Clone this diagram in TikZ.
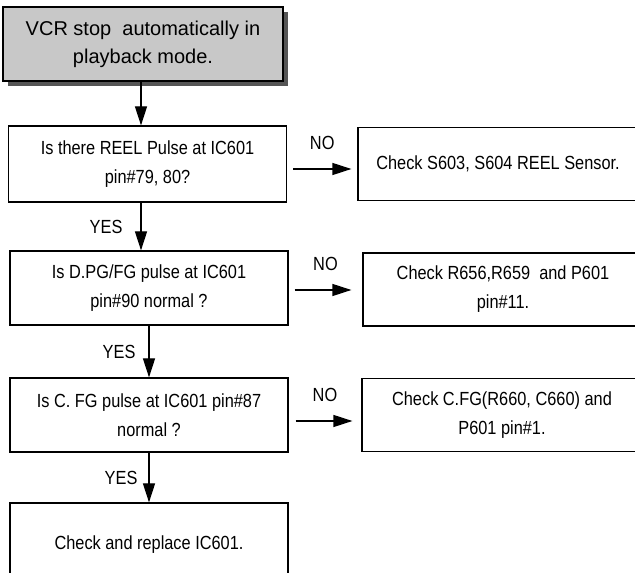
\documentclass[tikz,border=0pt]{standalone}
\usepackage{fontspec}
\setmainfont{Liberation Sans}
\newfontfamily\narrowfont[FakeStretch=0.86]{Liberation Sans}
\usetikzlibrary{positioning,arrows.meta,shadows}
\definecolor{boxgray}{RGB}{200,200,200}
\definecolor{shadowgray}{RGB}{85,85,85}

\begin{document}
\begin{tikzpicture}[x=1pt, y=1pt, line width=1.2pt,
    checkbox/.style={draw, rectangle, minimum width=278pt, minimum height=74pt, align=center, font=\narrowfont\fontsize{19}{29}\selectfont},
    flow/.style={-{Triangle[length=19pt, width=12pt]}},
    tag/.style={inner sep=0pt, font=\narrowfont\fontsize{19}{23}\selectfont}]
    \useasboundingbox (0,0) rectangle (635,573);

    % Nodes
    \node[draw, rectangle, fill=boxgray, minimum width=280pt, minimum height=74pt, align=center, font=\fontsize{20}{28}\selectfont, drop shadow={shadow xshift=5pt, shadow yshift=-5pt, fill=shadowgray, opacity=1}] (start) at (143,529) {VCR stop~ automatically in\\playback mode.};
    \node[checkbox, minimum height=76pt, below of=start, node distance=120pt, xshift=4.5pt] (reel) {Is there REEL Pulse at IC601\\pin\#79, 80?};
    \node[checkbox, below of=reel, node distance=124pt, xshift=1.5pt] (pulse) {Is D.PG/FG pulse at IC601\\pin\#90 normal ?};
    \node[checkbox, below of=pulse, node distance=127pt] (cfg) {Is C. FG pulse at IC601 pin\#87\\normal ?};
    \node[checkbox, minimum height=84pt, below of=cfg, node distance=130pt] (fix) {Check and replace IC601.};

    \node[checkbox, minimum width=280pt, minimum height=73pt, right of=reel, node distance=350.5pt] (sensor) {Check S603, S604 REEL Sensor.};
    \node[checkbox, minimum width=280pt, minimum height=73pt, right of=pulse, node distance=354pt, yshift=-1.5pt] (motor) {Check R656,R659~ and P601\\pin\#11.};
    \node[checkbox, minimum width=280pt, minimum height=73pt, right of=cfg, node distance=353pt] (cfgcheck) {Check C.FG(R660, C660) and\\P601 pin\#1.};

    % Connections
    \draw[flow] ([xshift=-2pt]start.south) -- ([xshift=-2pt]start.south |- reel.north);
    \draw[flow] ([xshift=-6.5pt]reel.south) -- ([xshift=-6.5pt]reel.south |- pulse.north) node[tag, midway, left=18pt] {YES};
    \draw[flow] (pulse.south) -- (cfg.north) node[tag, midway, left=13pt] {YES};
    \draw[flow] (cfg.south) -- (fix.north) node[tag, midway, left=11pt] {YES};

    \draw[flow, shorten <=6pt, shorten >=6pt] ([yshift=-5pt]reel.east) -- ([yshift=-5pt]reel.east -| sensor.west) node[tag, midway, above=19pt] {NO};
    \draw[flow, shorten <=6pt, shorten >=11pt] ([yshift=-2pt]pulse.east) -- ([yshift=-2pt]pulse.east -| motor.west) node[tag, midway, above=19pt] {NO};
    \draw[flow, shorten <=7pt, shorten >=9pt] ([yshift=-6pt]cfg.east) -- ([yshift=-6pt]cfg.east -| cfgcheck.west) node[tag, midway, above=19pt] {NO};
\end{tikzpicture}
\end{document}
